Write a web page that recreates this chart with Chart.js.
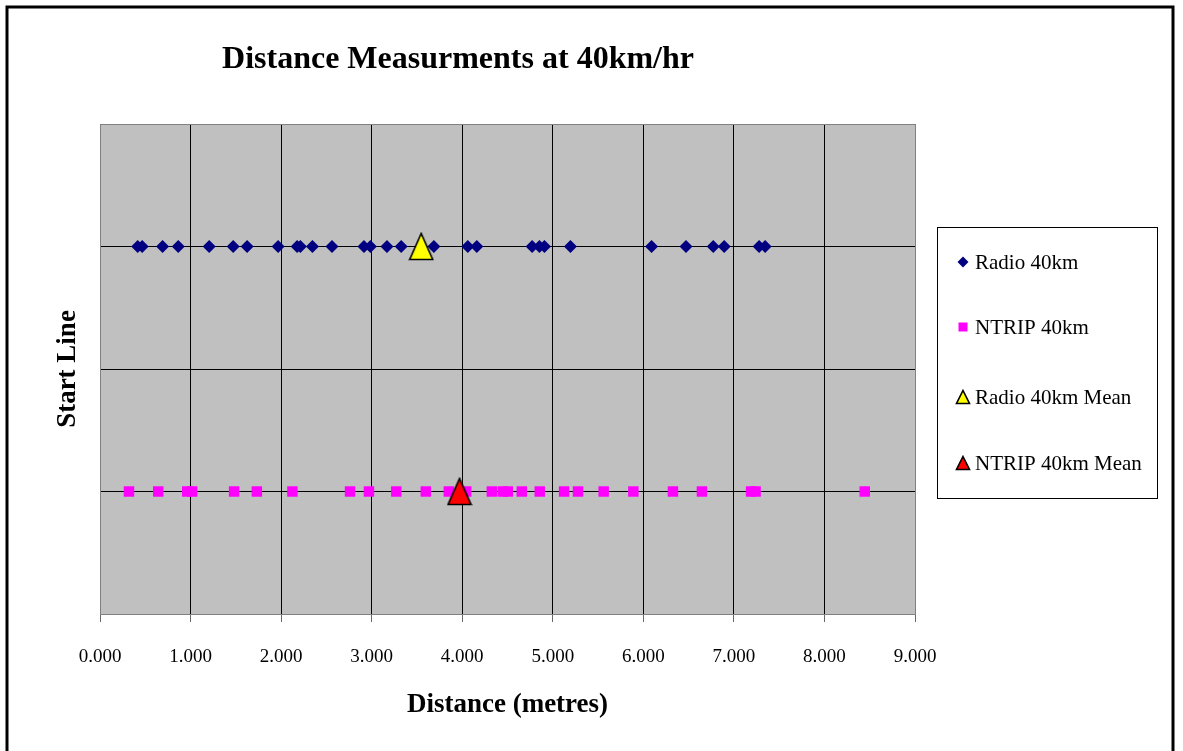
<!DOCTYPE html>
<html>
<head>
<meta charset="utf-8">
<title>Distance Measurments at 40km/hr</title>
<script src="https://cdn.jsdelivr.net/npm/chart.js@4.4.1/dist/chart.umd.min.js"></script>
<style>
  html, body { margin: 0; padding: 0; background: #fff; }
</style>
</head>
<body>
<canvas id="chart" width="1183" height="751"></canvas>
<script>
// Data (distance from start line, metres)
const radioDistances = [0.416, 0.466, 0.691, 0.864, 1.206, 1.471, 1.625, 1.967, 2.177, 2.213,
    2.346, 2.562, 2.915, 2.986, 3.169, 3.326, 3.687, 4.062, 4.161, 4.772,
    4.853, 4.908, 5.195, 6.091, 6.471, 6.772, 6.893, 7.279, 7.345];
const ntripDistances = [0.320, 0.643, 0.963, 1.018, 1.481, 1.732, 2.125, 2.761, 2.970, 3.272,
    3.598, 3.852, 4.044, 4.327, 4.448, 4.503, 4.658, 4.856, 5.125, 5.279,
    5.562, 5.890, 6.327, 6.647, 7.190, 7.240, 8.445];
const radioMean = [3.547];
const ntripMean = [3.970];

// each series sits on its own row of the (hidden) y axis
const radioRow = 3;
const ntripRow = 1;

const seriesNames = ['Radio 40km', 'NTRIP 40km', 'Radio 40km Mean', 'NTRIP 40km Mean'];
const xTickValues = [0, 1, 2, 3, 4, 5, 6, 7, 8, 9];
const yTickValues = [0, 1, 2, 3, 4];

const chartTitle = 'Distance Measurments at 40km/hr';
const xTitle = 'Distance (metres)';
const yTitle = 'Start Line';

const SERIF = '"Liberation Serif", "Times New Roman", serif';

// triangle marker with a black outline, drawn into a small canvas
function makeTriangle(w, h, fill) {
    const c = document.createElement('canvas');
    c.width = w;
    c.height = h;
    const g = c.getContext('2d');
    g.beginPath();
    g.moveTo(w / 2, 1.5);
    g.lineTo(w - 1.5, h - 1.5);
    g.lineTo(1.5, h - 1.5);
    g.closePath();
    g.fillStyle = fill;
    g.fill();
    g.lineWidth = 1.6;
    g.strokeStyle = '#000';
    g.stroke();
    return c;
}

const yellowTri = makeTriangle(26, 29, '#FFFF00');
const redTri = makeTriangle(26, 29, '#FF0000');
const yellowTriSmall = makeTriangle(16, 16, '#FFFF00');
const redTriSmall = makeTriangle(16, 16, '#FF0000');

const toPoints = (xs, row) => xs.map(x => ({ x: x, y: row }));

// gray plot background + outer frame + title
const decorPlugin = {
    id: 'decor',
    beforeDraw(chart) {
        const ctx = chart.ctx;
        const a = chart.chartArea;
        ctx.save();
        ctx.fillStyle = '#fff';
        ctx.fillRect(0, 0, chart.width, chart.height);
        ctx.fillStyle = '#C0C0C0';
        ctx.fillRect(a.left, a.top, a.right - a.left, a.bottom - a.top);
        ctx.restore();
    },
    afterDraw(chart) {
        const ctx = chart.ctx;
        ctx.save();
        // frame round the whole picture
        ctx.strokeStyle = '#000';
        ctx.lineWidth = 3;
        ctx.strokeRect(7, 7, 1166, 760);
        // title
        ctx.fillStyle = '#000';
        ctx.font = 'bold 32px ' + SERIF;
        ctx.textAlign = 'center';
        ctx.textBaseline = 'alphabetic';
        ctx.fillText(chartTitle, 458, 68);
        ctx.restore();
    }
};

// boxed legend on the right
const legendPlugin = {
    id: 'boxLegend',
    afterDraw(chart) {
        const ctx = chart.ctx;
        const rowsY = [262, 327, 397, 463];
        ctx.save();
        ctx.fillStyle = '#fff';
        ctx.fillRect(937.5, 227.5, 220, 271);
        ctx.strokeStyle = '#000';
        ctx.lineWidth = 1;
        ctx.strokeRect(937.5, 227.5, 220, 271);

        ctx.font = '21px ' + SERIF;
        ctx.textAlign = 'left';
        ctx.textBaseline = 'middle';
        chart.data.datasets.forEach((ds, i) => {
            const y = rowsY[i];
            const mx = 963;
            ctx.fillStyle = ds.backgroundColor;
            if (ds.pointStyle === 'rectRot') {
                ctx.beginPath();
                ctx.moveTo(mx, y - 5.5);
                ctx.lineTo(mx + 5.5, y);
                ctx.lineTo(mx, y + 5.5);
                ctx.lineTo(mx - 5.5, y);
                ctx.closePath();
                ctx.fill();
            } else if (ds.pointStyle === 'rect') {
                ctx.fillRect(mx - 4.5, y - 4.5, 9, 9);
            } else {
                const img = i === 2 ? yellowTriSmall : redTriSmall;
                ctx.drawImage(img, mx - 8, y - 8);
            }
            ctx.fillStyle = '#000';
            ctx.fillText(ds.label, 975, y + 1);
        });
        ctx.restore();
    }
};

const ctx = document.getElementById('chart').getContext('2d');
const chart = new Chart(ctx, {
    type: 'scatter',
    data: {
        datasets: [
            {
                label: seriesNames[0],
                data: toPoints(radioDistances, radioRow),
                pointStyle: 'rectRot',
                radius: 6.5,
                backgroundColor: '#000080',
                borderColor: '#000080',
                borderWidth: 0,
                order: 2
            },
            {
                label: seriesNames[1],
                data: toPoints(ntripDistances, ntripRow),
                pointStyle: 'rect',
                radius: 7.4,
                backgroundColor: '#FF00FF',
                borderColor: '#FF00FF',
                borderWidth: 0,
                order: 2
            },
            {
                label: seriesNames[2],
                data: toPoints(radioMean, radioRow),
                pointStyle: yellowTri,
                backgroundColor: '#FFFF00',
                order: 0
            },
            {
                label: seriesNames[3],
                data: toPoints(ntripMean, ntripRow),
                pointStyle: redTri,
                backgroundColor: '#FF0000',
                order: 0
            }
        ]
    },
    options: {
        responsive: false,
        animation: false,
        devicePixelRatio: 1,
        layout: {
            autoPadding: false,
            padding: { top: 124, right: 268, left: 0, bottom: 0 }
        },
        plugins: {
            legend: { display: false },
            title: { display: false },
            tooltip: { enabled: false }
        },
        scales: {
            x: {
                type: 'linear',
                min: 0,
                max: 9,
                afterBuildTicks: scale => { scale.ticks = xTickValues.map(v => ({ value: v })); },
                afterFit: scale => { scale.height = 137; },
                ticks: {
                    color: '#000',
                    padding: 24,
                    font: { family: SERIF, size: 19 },
                    callback: v => Number(v).toFixed(3)
                },
                grid: {
                    color: c => (c.tick && (c.tick.value === 0 || c.tick.value === 9)) ? '#808080' : '#000',
                    tickColor: '#666',
                    tickLength: 8,
                    lineWidth: 1
                },
                border: { color: '#808080', width: 1 },
                title: {
                    display: true,
                    text: xTitle,
                    color: '#000',
                    font: { family: SERIF, size: 27, weight: 'bold' },
                    padding: { top: 0, bottom: 30 }
                }
            },
            y: {
                type: 'linear',
                min: 0,
                max: 4,
                afterBuildTicks: scale => { scale.ticks = yTickValues.map(v => ({ value: v })); },
                afterFit: scale => { scale.width = 100; },
                ticks: { display: false },
                grid: {
                    color: c => (c.tick && (c.tick.value === 0 || c.tick.value === 4)) ? '#808080' : '#000',
                    drawTicks: false,
                    lineWidth: 1
                },
                border: { color: '#808080', width: 1 },
                title: {
                    display: true,
                    text: yTitle,
                    color: '#000',
                    font: { family: SERIF, size: 27, weight: 'bold' },
                    padding: { top: 52, bottom: 0 }
                }
            }
        }
    },
    plugins: [decorPlugin, legendPlugin]
});
</script>
</body>
</html>
